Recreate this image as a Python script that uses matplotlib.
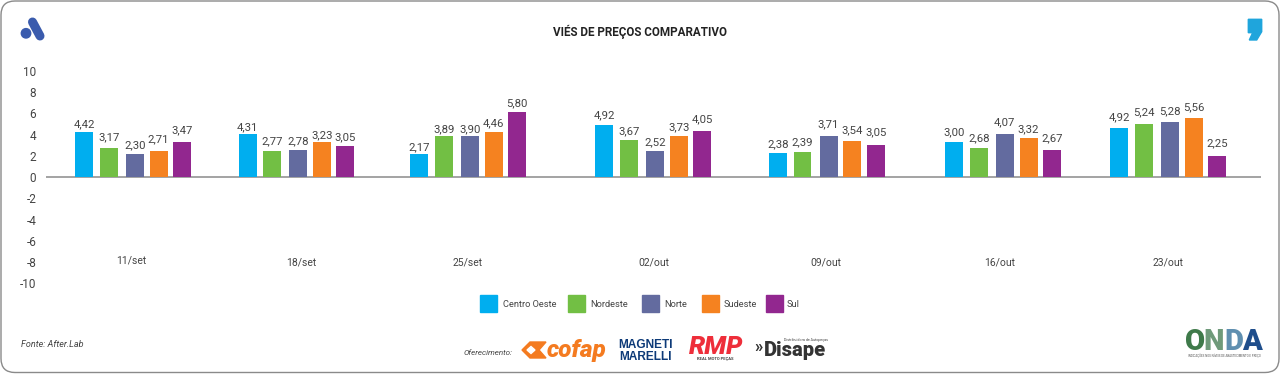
import matplotlib
matplotlib.use("Agg")
import matplotlib.pyplot as plt
from matplotlib.patches import FancyBboxPatch, Polygon, Circle, Rectangle
from matplotlib.transforms import ScaledTranslation

plt.rcParams["font.family"] = ["Roboto", "DejaVu Sans"]

# data, as printed on the chart
weeks = ["11/set", "18/set", "25/set", "02/out", "09/out", "16/out", "23/out"]
regions = ["Centro Oeste", "Nordeste", "Norte", "Sudeste", "Sul"]
centro_oeste = [4.42, 4.31, 2.17, 4.92, 2.38, 3.00, 4.92]
nordeste = [3.17, 2.77, 3.89, 3.67, 2.39, 2.68, 5.24]
norte = [2.30, 2.78, 3.90, 2.52, 3.71, 4.07, 5.28]
sudeste = [2.71, 3.23, 4.46, 3.73, 3.54, 3.32, 5.56]
sul = [3.47, 3.05, 5.80, 4.05, 3.05, 2.67, 2.25]

# bar heights as drawn in the picture (they differ a bit from the printed values)
centro_oeste_bar = [4.21, 4.06, 2.14, 4.91, 2.26, 3.24, 4.56]
nordeste_bar = [2.74, 2.45, 3.80, 3.49, 2.33, 2.70, 5.00]
norte_bar = [2.17, 2.52, 3.80, 2.45, 3.87, 4.06, 5.12]
sudeste_bar = [2.39, 3.30, 4.21, 3.84, 3.37, 3.68, 5.57]
sul_bar = [3.24, 2.89, 6.10, 4.31, 3.02, 2.55, 1.95]

yticks = [10, 8, 6, 4, 2, 0, -2, -4, -6, -8, -10]

printed = [centro_oeste, nordeste, norte, sudeste, sul]
heights = [centro_oeste_bar, nordeste_bar, norte_bar, sudeste_bar, sul_bar]

# layout
colors = ["#00aeef", "#72bf44", "#636b9f", "#f58220", "#92278f"]
group_pos = [0, 0.947, 1.942, 3.015, 4.022, 5.044, 6.0]
bar_shift = [-0.2835, -0.142, 0.009, 0.147, 0.2835]
week_pos = [-0.011, 0.973, 1.941, 3.019, 4.016, 5.024, 5.997]
week_y = [-7.89, -8.1, -8.1, -8.1, -8.1, -8.1, -8.1]
# px between bar top and the centre of its label, per series
label_gap = [
    [7.7, 6.6, 7, 9, 8.7, 10, 10.7],
    [10, 9.3, 6.7, 8, 9.7, 9.3, 11.3],
    [8, 8.7, 6.7, 8.3, 11, 11, 11],
    [11.7, 6.6, 8.3, 9, 10.3, 8.7, 10],
    [12, 8.7, 9, 11.3, 12.3, 11, 13],
]
legend_box = [480.3, 567.7, 642.3, 702.3, 765.7]
legend_txt = [502.7, 590, 664.3, 723.7, 786.7]

TXT = "#444444"

fig = plt.figure(figsize=(12.8, 3.74), dpi=100)

# page layer in pixels, for frame, title, legend and logos
bg = fig.add_axes([0, 0, 1, 1])
bg.set_xlim(0, 1280)
bg.set_ylim(374, 0)
bg.axis("off")

bg.add_patch(FancyBboxPatch((1, 1), 1278, 371.5, boxstyle="round,pad=0,rounding_size=14",
                            fc="white", ec="#8a8a8a", lw=1.0))
bg.text(640, 31.5, "VIÉS DE PREÇOS COMPARATIVO", ha="center", va="center",
        fontsize=8.4, fontweight="bold", color="#222222")

# top logos
bg.plot([32.5, 40], [22, 36], color="#3a5bad", lw=6.5, solid_capstyle="round")
bg.add_patch(Circle((26, 33.3), 4.7, color="#3a5bad"))
bg.add_patch(Polygon([(1248.3, 19.3), (1261.7, 19.3), (1261.7, 31.7), (1256.7, 40),
                      (1249.3, 40), (1252.7, 32.7), (1248.3, 32.7)], color="#1fa5dc"))

# legend
for i in range(len(regions)):
    bg.add_patch(Rectangle((legend_box[i], 295), 17, 16.5, color=colors[i]))
    bg.text(legend_txt[i], 304.2, regions[i], ha="left", va="center", fontsize=6.7, color=TXT)

# footer
bg.text(20.7, 344.3, "Fonte: After.Lab", ha="left", va="center", fontsize=6.5,
        style="italic", color=TXT)
bg.text(464, 353.3, "Oferecimento:", ha="left", va="center", fontsize=5.8,
        style="italic", color=TXT)

# cofap
orange = "#f47b20"
bg.add_patch(Polygon([(522, 350), (530, 342), (546, 342), (539, 350), (546, 358), (530, 358)],
                     color=orange))
bg.add_patch(Polygon([(527, 350), (531, 346.5), (535, 350), (531, 353.5)], color="white"))
bg.text(577, 350, "cofap", ha="center", va="center", fontsize=17.5, fontweight="black",
        style="italic", color=orange)

# magneti marelli
navy = "#0d3a78"
bg.text(645.5, 345.5, "MAGNETI", ha="center", va="center", fontsize=8.6, fontweight="bold",
        family="Liberation Sans", color=navy)
bg.text(645.5, 357, "MARELLI", ha="center", va="center", fontsize=8.6, fontweight="bold",
        family="Liberation Sans", color=navy)

# rmp
bg.text(716, 346.5, "RMP", ha="center", va="center", fontsize=18.5, fontweight="black",
        style="italic", color="#ee2e3a")
bg.text(715.5, 358.8, "REAL MOTO PEÇAS", ha="center", va="center", fontsize=3.0,
        fontweight="bold", color="#444444")

# disape
bg.text(758.5, 347.5, "»", ha="center", va="center", fontsize=12, fontweight="bold", color="#333333")
bg.text(795, 350.5, "Disape", ha="center", va="center", fontsize=14.5, fontweight="black",
        color="#333333")
bg.text(806, 340, "Distribuidora de Autopeças", ha="center", va="center", fontsize=2.6,
        color="#444444")

# onda
onda_colors = ["#3f7a4a", "#6f9a7a", "#5f8fb0", "#1f4e8c"]
onda_x = [1195, 1214, 1234, 1252]
for i, letter in enumerate("ONDA"):
    bg.text(onda_x[i], 342, letter, ha="center", va="center", fontsize=21, fontweight="black",
            color=onda_colors[i])
bg.text(1224, 356, "INDICAÇÕES NOS NÍVEIS DE ABASTECIMENTO E PREÇO", ha="center", va="center",
        fontsize=2.1, color="#555555")

# chart layer
ax = fig.add_axes([46 / 1280, 1 - 282.6 / 374, (1261 - 46) / 1280, 212 / 374])
ax.patch.set_alpha(0)
ax.set_xlim(-0.5055, 6.538)
ax.set_ylim(-10, 10)
for s in ax.spines.values():
    s.set_visible(False)
ax.set_xticks([])
ax.set_yticks(yticks)
ax.set_yticklabels([str(t) for t in yticks])
ax.tick_params(axis="y", length=0, pad=7, labelsize=8.5, labelcolor=TXT)
# tick labels sit a little below their gridline position in the reference
for lab in ax.get_yticklabels():
    lab.set_transform(lab.get_transform() + ScaledTranslation(0, -0.5 / 100, fig.dpi_scale_trans))

ax.axhline(0, color="#8a8a8a", lw=1.1, zorder=1)

for s in range(len(regions)):
    x = [group_pos[g] + bar_shift[s] for g in range(len(weeks))]
    ax.bar(x, heights[s], width=0.104, color=colors[s], zorder=2, label=regions[s])
    for g in range(len(weeks)):
        ax.annotate("{:.2f}".format(printed[s][g]).replace(".", ","),
                    (x[g], heights[s][g]), xytext=(0, label_gap[s][g]),
                    textcoords="offset pixels", ha="center", va="center",
                    fontsize=8.2, color=TXT)

for g in range(len(weeks)):
    ax.text(week_pos[g], week_y[g], weeks[g], ha="center", va="center", fontsize=7.5, color=TXT)

fig.savefig("out.png", dpi=100)
